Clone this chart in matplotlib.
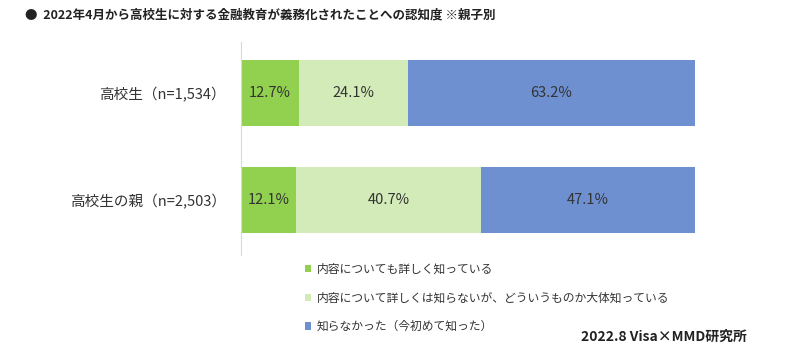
import matplotlib
matplotlib.use("Agg")
import matplotlib.pyplot as plt
from matplotlib.patches import Patch

plt.rcParams['font.family'] = ['Noto Sans CJK JP', 'DejaVu Sans']

categories = ["高校生（n=1,534）", "高校生の親（n=2,503）"]
series_names = ["内容についても詳しく知っている",
                "内容について詳しくは知らないが、どういうものか大体知っている",
                "知らなかった（今初めて知った）"]
values = [
    [12.7, 12.1],
    [24.1, 40.7],
    [63.2, 47.1],
]
colors = ["#92D050", "#D2EBB8", "#6E90D1"]
title = "●  2022年4月から高校生に対する金融教育が義務化されたことへの認知度 ※親子別"
credit = "2022.8 Visa×MMD研究所"

fig = plt.figure(figsize=(8, 3.57), dpi=100)
ax = fig.add_axes([241/800, 1-255/357, 454/800, 213/357])

ypos = list(range(len(categories)))
left = [0.0]*len(categories)
for vals, col in zip(values, colors):
    bars = ax.barh(ypos, vals, left=left, height=0.614, color=col, edgecolor='none')
    for b, v in zip(bars, vals):
        ax.text(b.get_x() + b.get_width()/2, b.get_y() + b.get_height()/2,
                f"{v:.1f}%", ha='center', va='center', fontsize=10.5, color='#333333')
    left = [l + v for l, v in zip(left, vals)]

ax.set_xlim(0, 100)
ax.set_ylim(1.507, -0.474)
ax.set_yticks(ypos)
ax.set_yticklabels(categories, fontsize=10.5, color='#333333')
ax.tick_params(axis='y', length=0, pad=11)
ax.set_xticks([])
for s in ['top', 'right', 'bottom']:
    ax.spines[s].set_visible(False)
ax.spines['left'].set_color('#D9D9D9')
ax.spines['left'].set_linewidth(0.8)

fig.text(25/800, 1-15/357, title, fontsize=9, fontweight='bold', color='#222222',
         ha='left', va='center')

handles = [Patch(facecolor=c, edgecolor='none') for c in colors]
leg = fig.legend(handles, series_names, loc='upper left',
                 bbox_to_anchor=(305/800, 1-263/357), frameon=False,
                 fontsize=8.5, handlelength=0.55, handleheight=0.55,
                 handletextpad=0.45, labelspacing=1.32, borderpad=0, borderaxespad=0)
for t in leg.get_texts():
    t.set_color('#333333')

fig.text(747/800, 1-337/357, credit, fontsize=10, fontweight='bold', color='#222222',
         ha='right', va='center')

fig.savefig("out.png", dpi=100)
